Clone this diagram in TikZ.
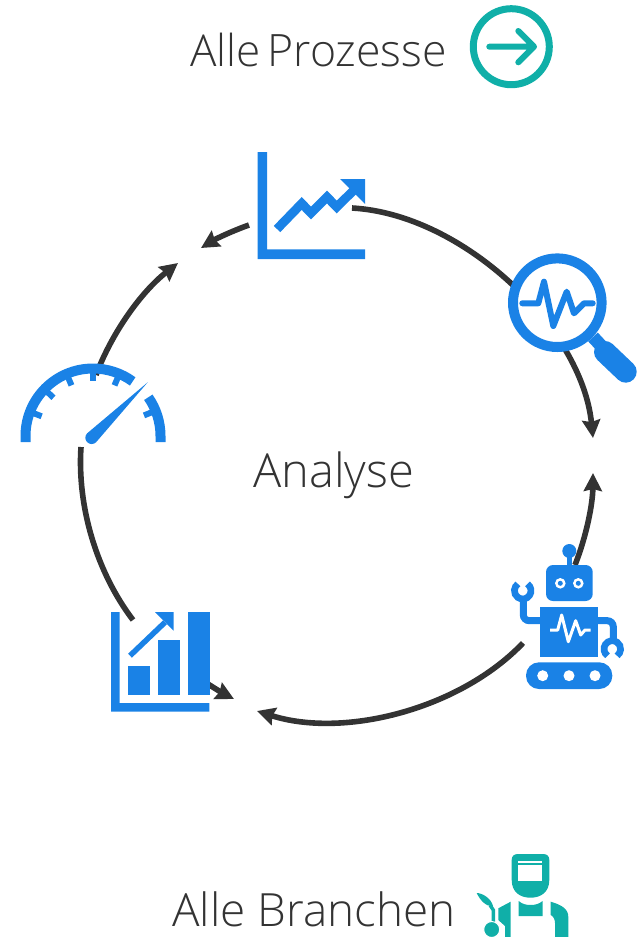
\documentclass[tikz,border=0pt]{standalone}
\usepackage{fontspec}
\setmainfont{Open Sans}[UprightFont=* Light]
\usetikzlibrary{arrows.meta}
\definecolor{iconblue}{HTML}{1A82E6}
\definecolor{iconteal}{HTML}{10AFA8}
\definecolor{ringgray}{HTML}{333333}
\tikzset{
	ringarc/.style={draw=ringgray, line width=5.6pt, -{Stealth[length=18pt, width=18pt, inset=2pt]}, looseness=0.85},
	ringstub/.style={draw=ringgray, line width=5.6pt, looseness=0.85},
	caption/.style={anchor=base west, inner sep=0pt, text=ringgray, font=\fontsize{44}{44}\selectfont},
	bluefill/.style={fill=iconblue},
	blueline/.style={draw=iconblue, line join=round, line cap=round},
	whiteline/.style={draw=white, line width=3pt, line join=round},
}
\begin{document}
\begin{tikzpicture}[x=1pt, y=-1pt]
	\useasboundingbox (0,0) rectangle (641,937);
	% ends of the ring
	\coordinate (trendR) at (352,208);
	\coordinate (tipE) at (593,438);
	\coordinate (robotT) at (575,565);
	\coordinate (tipNE) at (593,473);
	\coordinate (robotL) at (523,643);
	\coordinate (tipS) at (257,711);
	\coordinate (barsR) at (208,684);
	\coordinate (tipSW) at (234,699);
	\coordinate (barsT) at (133,620);
	\coordinate (gaugeB) at (81,447);
	\coordinate (gaugeT) at (96,375);
	\coordinate (tipNW) at (178,263);
	\coordinate (trendL) at (249,225);
	\coordinate (tipN) at (201,248);
	\draw[ringarc] (trendR) to[bend left=40.5] (tipE);
	\draw[ringarc] (robotT) to[bend right=10.5] (tipNE);
	\draw[ringarc] (robotL) to[bend left=32] (tipS);
	\draw[ringarc] (barsR) to[bend right=3] (tipSW);
	\draw[ringstub] (barsT) to[bend left=20.5] (gaugeB);
	\draw[ringarc] (gaugeT) to[bend left=15.6] (tipNW);
	\draw[ringarc] (trendL) to[bend right=6] (tipN);

	\node[caption] (prozesse) at (190,66) {Alle\hspace{7pt}{\fontsize{44.6}{44}\selectfont Prozesse}};
	\node[caption, font=\fontsize{47}{47}\selectfont] (analyse) at (253,487) {Analyse};
	\node[caption, font=\fontsize{45.8}{46}\selectfont] (branchen) at (172,926) {Alle Branchen};

	% arrow in circle
	\draw[iconteal, line width=7pt] (511.3,46.7) circle (38);
	\draw[iconteal, line width=6pt, line cap=round, line join=round] (489.3,46.7) -- (534,46.7) (518.3,31) -- (534,46.7) -- (518.3,62.3);

	% trend chart
	\fill[bluefill] (257.7,152) -- (267,152) -- (267,249.3) -- (365,249.3) -- (365,259) -- (257.7,259) -- cycle;
	\draw[iconblue, line width=9pt, line join=miter] (277,229) -- (301.7,203.5) -- (311,213) -- (327,197) -- (336.7,207) -- (355,189);
	\fill[bluefill] (340,179) -- (365,179) -- (365,204) -- cycle;

	% magnifier
	\draw[iconblue, line width=10pt, fill=white] (557.3,302.7) circle (44.3);
	\draw[iconblue, line width=13pt] (593,337) -- (606,351);
	\draw[iconblue, line width=22pt, line cap=round] (605,352) -- (625.7,371.7);
	\draw[blueline, line width=6pt] (522.3,303.3) -- (538.3,303.3) -- (544,281.7) -- (553.3,326) -- (566.7,291.7) -- (574,313.3) -- (584,303.3) -- (592.7,303.3);

	% robot
	\fill[bluefill] (569.3,551) circle (7);
	\draw[iconblue, line width=5pt] (569.3,551) -- (569.3,566);
	\fill[bluefill, rounded corners=7pt] (546,565) rectangle (592.7,601);
	\foreach \eyex in {560.3,578.3} {
		\fill[white] (\eyex,583.3) circle (5.3);
		\fill[bluefill] (\eyex,583.3) circle (2.5);
	}
	\fill[bluefill] (540.3,606.7) rectangle (598,656.7);
	\draw[whiteline] (550,630) -- (557.7,630) -- (561.7,615) -- (568.3,641.7) -- (575.7,620.7) -- (580.7,635) -- (585,630) -- (590.7,630);
	\fill[bluefill, rounded corners=13pt] (526,662.3) rectangle (612.3,689);
	\foreach \wheelx in {542.7,569,595} {
		\fill[white] (\wheelx,675.7) circle (5.5);
	}
	\draw[iconblue, line width=7pt, rounded corners=6pt] (541,620.7) -- (523.3,620.7) -- (523.3,597);
	\draw[iconblue, line width=6.7pt] (522.7,590.7) ++(305:8.3) arc[start angle=305, end angle=595, radius=8.3];
	\draw[iconblue, line width=7pt, rounded corners=6pt] (597,620.7) -- (613.3,620.7) -- (613.3,642);
	\draw[iconblue, line width=6.7pt] (612.3,649) ++(125:8.3) arc[start angle=125, end angle=415, radius=8.3];

	% bar chart
	\fill[bluefill] (111,612) -- (119.7,612) -- (119.7,703) -- (209.3,703) -- (209.3,711.7) -- (111,711.7) -- cycle;
	\fill[bluefill] (128,666) rectangle (150,695);
	\fill[bluefill] (158,640) rectangle (180,695);
	\fill[bluefill] (188,612) rectangle (210,695);
	\draw[iconblue, line width=5.5pt] (130,655.7) -- (165,622.3);
	\fill[bluefill] (155,612) -- (173.7,612) -- (173.7,630.7) -- cycle;

	% gauge
	\draw[iconblue, line width=10pt] (25.5,442) -- (25.5,436) arc[start angle=180, end angle=306, radius=67.5];
	\draw[iconblue, line width=10pt] (93,436) ++(325:67.5) arc[start angle=325, end angle=360, radius=67.5] -- (160.5,442);
	\foreach \tickang in {201,224,247,270,293,338} {
		\draw[iconblue, line width=6pt] (93,436) ++(\tickang:64) -- ++(\tickang:-9);
	}
	\fill[bluefill] (147.7,382.3) -- (96.1,442.2) arc[start angle=45, end angle=225, radius=6.3] -- cycle;

	% welder
	\fill[iconteal] (511.7,860) .. controls (511.7,856) and (514,854) .. (518,854) -- (543,854) .. controls (547,854) and (549.3,856) .. (549.3,860) -- (549.3,880) .. controls (549.3,892) and (541,897.7) .. (530.5,897.7) .. controls (520,897.7) and (511.7,892) .. (511.7,880) -- cycle;
	\fill[white] (518.3,861) rectangle (542.3,862.5);
	\fill[white] (518.3,865) rectangle (542.3,881);
	\fill[iconteal] (518.7,901) .. controls (522,904) and (526,905) .. (530.7,905) .. controls (535,905) and (539,904) .. (542.7,901) -- (542.7,916) -- (518.7,916) -- cycle;
	\fill[iconteal] (550.7,901.7) .. controls (562,905) and (568.3,909) .. (568.3,917) -- (568.3,937) -- (555,937) -- (555,923) .. controls (555,919) and (553,916) .. (550.7,915) -- cycle;
	\fill[iconteal] (510.7,901.7) -- (498.3,908.3) -- (498.3,920) -- (505,926) -- (505,937) -- (510.7,937) -- cycle;
	\draw[iconteal, line width=3.5pt] (493.3,925) -- (493.3,910) -- (490,905);
	\fill[iconteal] (476.7,893) .. controls (482,893) and (491,898) .. (493,906) .. controls (486,907) and (480,900) .. (476.7,893) -- cycle;
	\fill[iconteal, draw=white, line width=1pt] (491.7,929.5) circle (8);
\end{tikzpicture}
\end{document}
